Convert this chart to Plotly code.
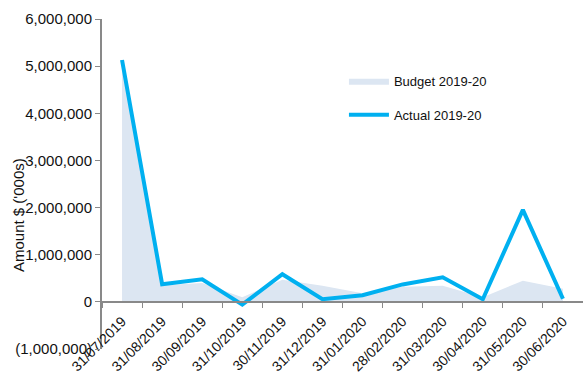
import plotly.graph_objects as go

dates = ["31/07/2019", "31/08/2019", "30/09/2019", "31/10/2019", "30/11/2019", "31/12/2019",
         "31/01/2020", "28/02/2020", "31/03/2020", "30/04/2020", "31/05/2020", "30/06/2020"]
budget = [5000000, 350000, 400000, 100000, 470000, 340000, 180000, 320000, 340000, 100000, 450000, 280000]
actual = [5130000, 375000, 480000, -60000, 585000, 55000, 140000, 370000, 520000, 55000, 1950000, 65000]
y_tickvals = [-1000000, 0, 1000000, 2000000, 3000000, 4000000, 5000000, 6000000]
y_ticktext = ["(1,000,000)", "0", "1,000,000", "2,000,000", "3,000,000", "4,000,000", "5,000,000", "6,000,000"]

FONT = "Liberation Sans"
TXT = "#111111"
ymin, ymax = -1000000, 6000000

fig = go.Figure()
fig.add_trace(go.Scatter(
    x=dates, y=budget, name="Budget 2019-20", mode="lines", fill="tozeroy",
    fillcolor="#dce6f2", line=dict(width=0, color="#dce6f2"), legendgroup="b"))
fig.add_trace(go.Scatter(
    x=dates, y=actual, name="Actual 2019-20", mode="lines",
    line=dict(width=4, color="#00b0f0"), legendgroup="a"))

fig.update_layout(
    width=583, height=382,
    margin=dict(l=102, r=0, t=19, b=33),
    paper_bgcolor="white", plot_bgcolor="white",
    font=dict(family=FONT, size=13, color=TXT),
    showlegend=True,
    legend=dict(x=0.503, y=0.858, xanchor="left", yanchor="top",
                font=dict(family=FONT, size=13, color=TXT), itemwidth=40,
                bgcolor="rgba(0,0,0,0)", tracegroupgap=14, traceorder="grouped"),
    xaxis=dict(
        type="category", range=[-0.5, 11.5], anchor="free",
        position=(0 - ymin) / (ymax - ymin),
        showline=True, linecolor="#898989", linewidth=2,
        ticks="outside", ticklen=5, tickcolor="#898989", tickwidth=1,
        tickson="boundaries", tickangle=-45, showgrid=False, zeroline=False,
        ticklabelstandoff=5,
        tickfont=dict(family=FONT, size=14, color=TXT), automargin=False),
    yaxis=dict(
        range=[ymin, ymax], tickvals=y_tickvals, ticktext=y_ticktext,
        showline=True, linecolor="#898989", linewidth=2,
        ticks="outside", ticklen=5, tickcolor="#898989", tickwidth=1,
        showgrid=False, zeroline=False,
        tickfont=dict(family=FONT, size=15, color=TXT), automargin=False),
)

fig.add_annotation(
    text="Amount $ ('000s)", textangle=-90, showarrow=False,
    xref="paper", yref="paper",
    x=(18 - 102) / 481, y=(349 - 215) / 330,
    xanchor="center", yanchor="middle",
    font=dict(family=FONT, size=15, color=TXT))

fig.write_html("out.html")
